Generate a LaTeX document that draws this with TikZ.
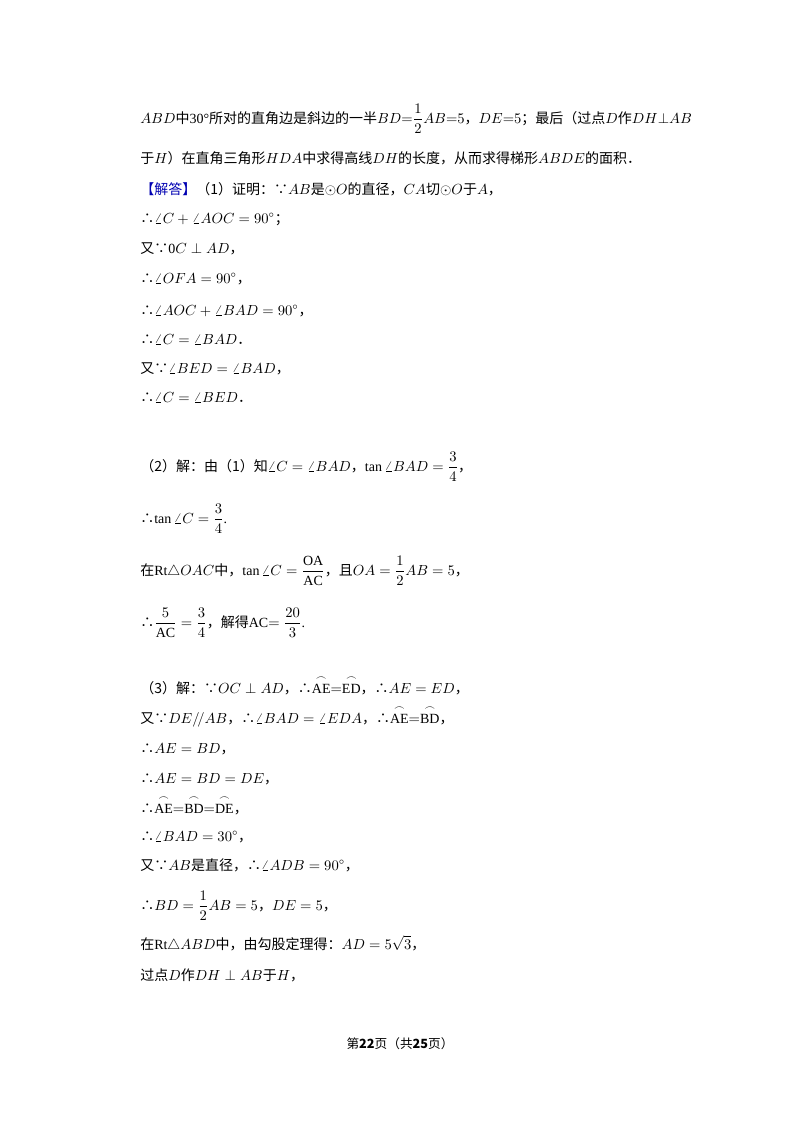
\documentclass[tikz,border=0pt]{standalone}
\usepackage{amsmath}
\usepackage{fontspec}
\setmainfont{Liberation Serif}
\newfontfamily\zhf{Noto Sans CJK SC}
\newcommand\zh[1]{{\zhf #1}}
\newcommand\arcx[1]{\ensuremath{\overset{\frown}{\mathrm{#1}}}}
\begin{document}
\begin{tikzpicture}[x=0.75pt,y=-0.75pt,txt/.style={anchor=base west,inner sep=0,font=\fontsize{10.5}{12}\selectfont}]
\useasboundingbox (0,0) rectangle (800,1132);
\fill[white] (0,0) rectangle (800,1132);
\node[txt] (l1) at (140,123) {$ABD$\zh{中}30°\zh{所对的直角边是斜边的一半}$BD{=}\dfrac{1}{2}AB{=}5$\zh{，}$DE{=}5$\zh{；最后（过点}$D$\zh{作}$DH{\perp}AB$};
\node[txt] (l2) at (140,163) {\zh{于}$H$\zh{）在直角三角形}$HDA$\zh{中求得高线}$DH$\zh{的长度，从而求得梯形}$ABDE$\zh{的面积．}};
\node[txt] (l3) at (140,194) {\zh{\textcolor{blue!70!black}{【解答】}（1）证明：∵}$AB$\zh{是}$\odot O$\zh{的直径，}$CA$\zh{切}$\odot O$\zh{于}$A$\zh{，}};
\node[txt] (l4) at (140,223) {\zh{∴}$\angle C+\angle AOC=90^\circ$\zh{；}};
\node[txt] (l5) at (140,253) {\zh{又∵}0$C\perp AD$\zh{，}};
\node[txt] (l6) at (140,283) {\zh{∴}$\angle OFA=90^\circ$\zh{，}};
\node[txt] (l7) at (140,315) {\zh{∴}$\angle AOC+\angle BAD=90^\circ$\zh{，}};
\node[txt] (l8) at (140,344) {\zh{∴}$\angle C=\angle BAD$\zh{．}};
\node[txt] (l9) at (140,373) {\zh{又∵}$\angle BED=\angle BAD$\zh{，}};
\node[txt] (l10) at (140,402) {\zh{∴}$\angle C=\angle BED$\zh{．}};
\node[txt] (l11) at (140,471) {\zh{（2）解：由（1）知}$\angle C=\angle BAD$\zh{，}$\tan\angle BAD=\dfrac{3}{4}$\zh{，}};
\node[txt] (l12) at (140,523) {\zh{∴}$\tan\angle C=\dfrac{3}{4}$.};
\node[txt] (l13) at (140,575) {\zh{在}Rt$\triangle OAC$\zh{中，}$\tan\angle C=\dfrac{\mathrm{OA}}{\mathrm{AC}}$\zh{，且}$OA=\dfrac{1}{2}AB=5$\zh{，}};
\node[txt] (l14) at (140,627) {\zh{∴}$\dfrac{5}{\mathrm{AC}}=\dfrac{3}{4}$\zh{，解得}AC$=\dfrac{20}{3}$.};
\node[txt] (l15) at (140,693) {\zh{（3）解：∵}$OC\perp AD$\zh{，∴}\arcx{AE}$=$\arcx{ED}\zh{，∴}$AE=ED$\zh{，}};
\node[txt] (l16) at (140,723) {\zh{又∵}$DE/\!/AB$\zh{，∴}$\angle BAD=\angle EDA$\zh{，∴}\arcx{AE}$=$\arcx{BD}\zh{，}};
\node[txt] (l17) at (140,753) {\zh{∴}$AE=BD$\zh{，}};
\node[txt] (l18) at (140,783) {\zh{∴}$AE=BD=DE$\zh{，}};
\node[txt] (l19) at (140,813) {\zh{∴}\arcx{AE}$=$\arcx{BD}$=$\arcx{DE}\zh{，}};
\node[txt] (l20) at (140,841) {\zh{∴}$\angle BAD=30^\circ$\zh{，}};
\node[txt] (l21) at (140,870) {\zh{又∵}$AB$\zh{是直径，∴}$\angle ADB=90^\circ$\zh{，}};
\node[txt] (l22) at (140,910) {\zh{∴}$BD=\dfrac{1}{2}AB=5$\zh{，}$DE=5$\zh{，}};
\node[txt] (l23) at (140,949) {\zh{在}Rt$\triangle ABD$\zh{中，由勾股定理得：}$AD=5\sqrt{3}$\zh{，}};
\node[txt] (l24) at (140,980) {\zh{过点}$D$\zh{作}$DH\perp AB$\zh{于}$H$\zh{，}};
\node[anchor=base,inner sep=0,font=\fontsize{9.5}{11}\selectfont] (ft) at (400,1048) {\zh{第\textbf{22}页（共\textbf{25}页）}};
\end{tikzpicture}
\end{document}
